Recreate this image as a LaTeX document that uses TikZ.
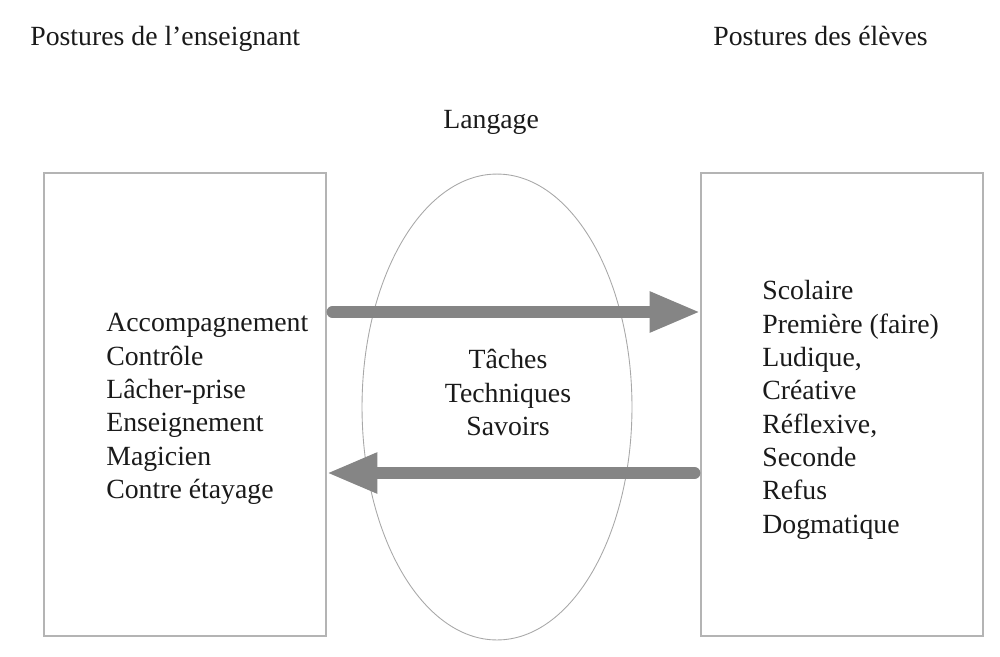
\documentclass[tikz,border=0pt]{standalone}
\usepackage{fontspec}
\setmainfont{Liberation Serif}
\usetikzlibrary{shapes.geometric,arrows.meta}
\definecolor{boxline}{HTML}{B4B4B4}
\definecolor{ellline}{HTML}{A8A8A8}
\definecolor{arrowgray}{HTML}{858585}
\definecolor{txt}{HTML}{1A1A1A}
\tikzset{
  box/.style={draw=boxline, line width=0.7pt, inner sep=0pt, minimum width=5.64cm, minimum height=9.26cm},
  bubble/.style={ellipse, draw=ellline, line width=0.5pt, inner sep=0pt, minimum width=5.4cm, minimum height=9.32cm},
  label/.style={anchor=base west, inner sep=0pt, text=txt, font=\fontsize{15.8}{19}\selectfont},
  list/.style={anchor=north west, inner sep=0pt, text=txt, align=left, font=\fontsize{15.8}{19}\selectfont},
  clist/.style={anchor=north, inner sep=0pt, text=txt, align=center, font=\fontsize{15.8}{19}\selectfont},
  flow/.style={draw=arrowgray, line width=6.8pt, line cap=round, -{Triangle[length=28.9pt, width=21.5pt]}}
}
\begin{document}
\begin{tikzpicture}[x=0.02cm, y=-0.02cm]
\useasboundingbox (0,0) rectangle (1000,656);
\node[box] (L) at (185,404.5) {};
\node[box] (R) at (842,404.5) {};
\node[bubble] (E) at (497,407) {};
\node[label] (t1) at (30,45) {Postures de l’enseignant};
\node[label] (t2) at (713,45) {Postures des élèves};
\node[label] (t3) at (443,128) {Langage};
\node[list] (la) at (106,313) {Accompagnement\\Contrôle\\Lâcher-prise\\Enseignement\\Magicien\\Contre étayage};
\node[list] (ra) at (762,280) {Scolaire\\Première (faire)\\Ludique,\\Créative\\Réflexive,\\Seconde\\Refus\\Dogmatique};
\node[clist] (ca) at (508,349) {Tâches\\Techniques\\Savoirs};
\coordinate (a1) at (0,312);
\coordinate (a2) at (0,473);
\draw[flow] ([xshift=3.4pt]L.east |- a1) -- (R.west |- a1);
\draw[flow] ([xshift=-3.4pt]R.west |- a2) -- (L.east |- a2);
\end{tikzpicture}
\end{document}
